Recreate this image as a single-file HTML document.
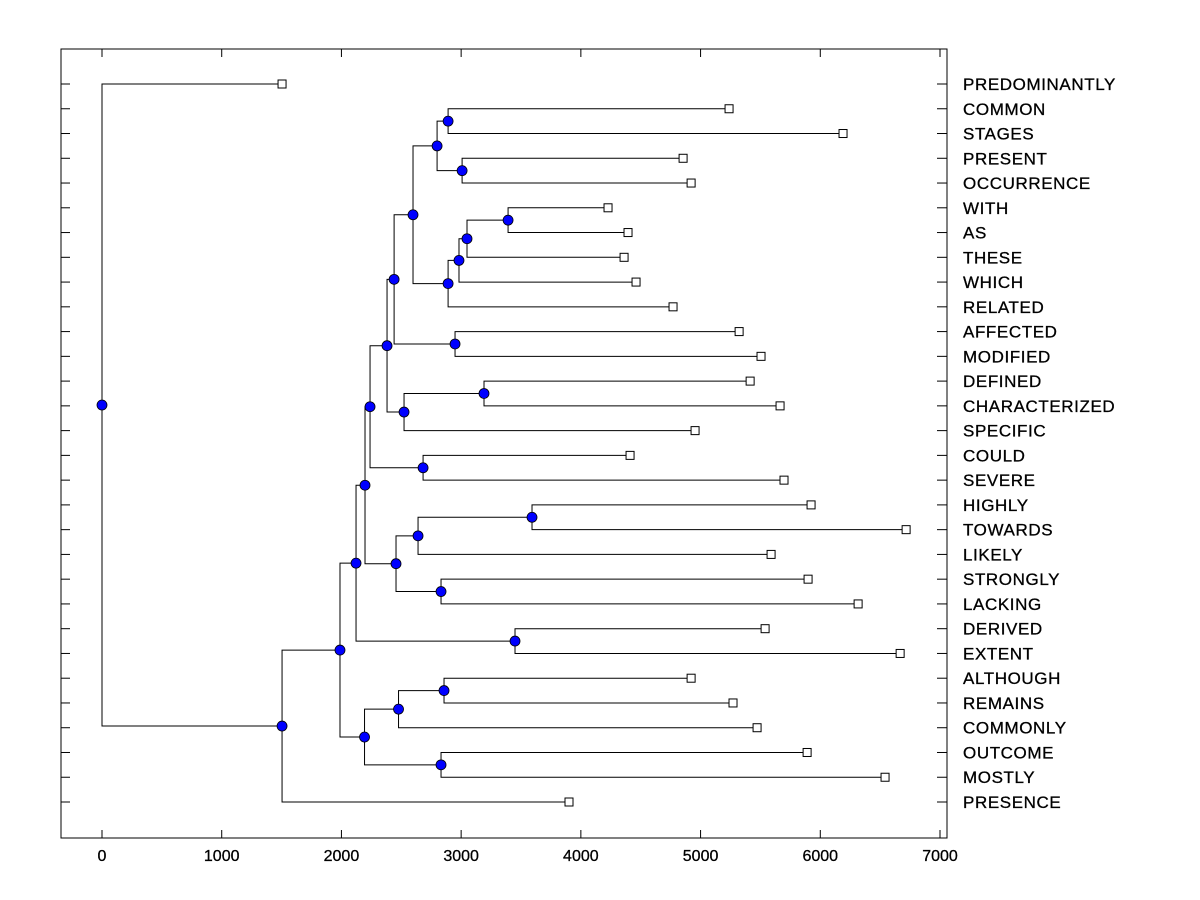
<!DOCTYPE html>
<html><head><meta charset="utf-8"><style>
body{margin:0;background:#fff;}
svg{display:block;font-family:"Liberation Sans",Arial,sans-serif;}
</style></head><body>
<svg id="chart" width="1200" height="900" viewBox="0 0 1200 900"></svg>
<script>
const labels=["PREDOMINANTLY","COMMON","STAGES","PRESENT","OCCURRENCE","WITH","AS","THESE","WHICH","RELATED","AFFECTED","MODIFIED","DEFINED","CHARACTERIZED","SPECIFIC","COULD","SEVERE","HIGHLY","TOWARDS","LIKELY","STRONGLY","LACKING","DERIVED","EXTENT","ALTHOUGH","REMAINS","COMMONLY","OUTCOME","MOSTLY","PRESENCE"];
const leafValues=[1504,5238,6190,4854,4921,4227,4394,4361,4461,4770,5322,5505,5414,5664,4954,4411,5697,5923,6717,5589,5898,6316,5539,6667,4921,5271,5472,5890,6541,3901];
// merges: [childA, childB, height]; numbers = leaf index, "nK" = merge K
const merges=[
[1,2,2891],[3,4,3008],["n0","n1",2799],[5,6,3392],["n3",7,3049],["n4",8,2982],["n5",9,2891],["n2","n6",2598],
[10,11,2949],["n7","n8",2440],[12,13,3191],["n10",14,2523],["n9","n11",2381],[15,16,2682],["n12","n13",2239],
[17,18,3592],["n15",19,2640],[20,21,2832],["n16","n17",2456],["n14","n18",2197],[22,23,3450],["n19","n20",2122],
[24,25,2857],["n22",26,2477],[27,28,2832],["n23","n24",2193],["n21","n25",1988],["n26",29,1504],[0,"n27",0]
];
const xTicks=[0,1000,2000,3000,4000,5000,6000,7000];
const svg=document.getElementById('chart');
const NS='http://www.w3.org/2000/svg';
const L=61,R=947,T=49,B=838;
const X=v=>102+v*(940-102)/7000;
const Y=i=>84+i*(802-84)/29;
function mk(tag,attrs){const e=document.createElementNS(NS,tag);for(const k in attrs)e.setAttribute(k,attrs[k]);svg.appendChild(e);return e;}
let e=mk('rect',{x:L,y:T,width:R-L,height:B-T,fill:'none',stroke:'#000','stroke-width':1});


xTicks.forEach(t=>{
 mk('line',{x1:X(t),x2:X(t),y1:B,y2:B-8,stroke:'#000'});
 mk('line',{x1:X(t),x2:X(t),y1:T,y2:T+8,stroke:'#000'});
 const tx=mk('text',{x:X(t),y:861,'font-size':16,'text-anchor':'middle',stroke:'#000','stroke-width':0.3});tx.textContent=t;
 
 
});
labels.forEach((lab,i)=>{
 mk('line',{x1:L,x2:L+9,y1:Y(i),y2:Y(i),stroke:'#000'});
 mk('line',{x1:R-10,x2:R,y1:Y(i),y2:Y(i),stroke:'#000'});
 const tx=mk('text',{x:963,y:Y(i)+6,'font-size':17,'letter-spacing':0.6,stroke:'#000','stroke-width':0.3});tx.textContent=lab;
 
 
});
const nodes=[];
function pos(c){return typeof c==='number'?{x:X(leafValues[c]),y:Y(c)}:nodes[+c.slice(1)];}
const lines=[],dots=[];
merges.forEach(m=>{
 const a=pos(m[0]),b=pos(m[1]),x=X(m[2]);
 const n={x:x,y:(a.y+b.y)/2};nodes.push(n);
 lines.push(`M${a.x},${a.y}H${x}V${b.y}H${b.x}`);
 dots.push(n);
});
e=mk('path',{d:lines.join(''),fill:'none',stroke:'#000','stroke-width':1});


leafValues.forEach((v,i)=>{
 const r=mk('rect',{x:X(v)-4,y:Y(i)-4,width:8,height:8,fill:'#fff',stroke:'#000'});
 
 
});
dots.forEach(n=>{
 const c=mk('circle',{cx:n.x,cy:n.y,r:5,fill:'#0000ff',stroke:'#000','stroke-width':0.8});
 
 
});
</script>
</body></html>
